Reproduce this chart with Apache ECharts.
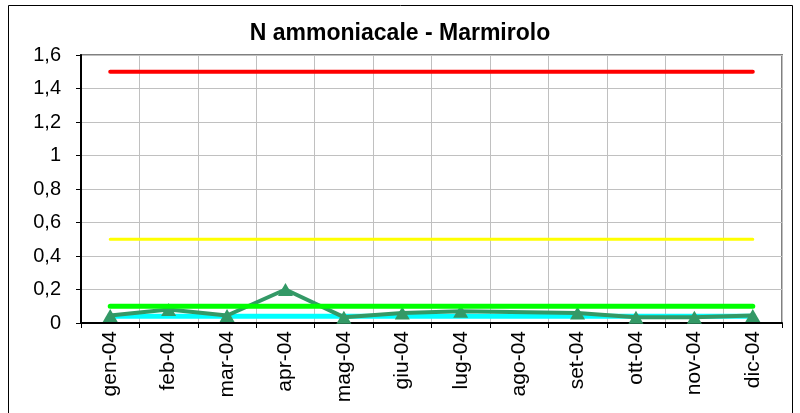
<!DOCTYPE html>
<html>
<head>
<meta charset="utf-8">
<title>N ammoniacale - Marmirolo</title>
<script src="https://cdn.jsdelivr.net/npm/echarts@6/dist/echarts.min.js"></script>
<style>
html,body{margin:0;padding:0;background:#fff;}
#main{width:800px;height:413px;}
</style>
</head>
<body>
<div id="main"></div>
<script>
// categorie (mesi)
var mesi = ['gen-04','feb-04','mar-04','apr-04','mag-04','giu-04','lug-04','ago-04','set-04','ott-04','nov-04','dic-04'];
// valori misurati (ago mancante)
var valori = [0.045,0.08,0.045,0.2,0.035,0.06,0.07,null,0.06,0.035,0.035,0.045];
// soglie
var sogliaRossa = 1.5;
var sogliaGialla = 0.5;
var sogliaVerde = 0.1;
var sogliaAzzurra = 0.04;
// tick asse y
var yMin = 0, yMax = 1.6, yStep = 0.2;

function costante(v){
	return mesi.map(function(){ return v; });
}

function lineaSoglia(nome, v, colore, spessore, z){
	return {
		name: nome,
		type: 'line',
		data: costante(v),
		symbol: 'none',
		lineStyle: {color: colore, width: spessore, cap: 'round'},
		itemStyle: {color: colore},
		z: z || 2,
		silent: true
	};
}

var font = 'Liberation Sans, Arial, sans-serif';
var myChart = echarts.init(document.getElementById('main'));
var option = {
	backgroundColor: '#ffffff',
	animation: false,
	title: {
		text: 'N ammoniacale - Marmirolo',
		left: 'center',
		top: 17,
		textStyle: {fontFamily: font, fontSize: 23, fontWeight: 'bold', color: '#000'}
	},
	// cornice esterna
	graphic: [{
		type: 'rect',
		shape: {x: 8.5, y: 5.5, width: 784, height: 430},
		style: {fill: 'none', stroke: '#000', lineWidth: 1},
		silent: true
	}],
	grid: {
		left: 81, right: 18, top: 55, bottom: 90,
		show: true,
		borderColor: '#808080',
		borderWidth: 2
	},
	xAxis: {
		type: 'category',
		data: mesi,
		boundaryGap: true,
		axisLine: {lineStyle: {color: '#000', width: 2}},
		axisTick: {show: true, length: 5, lineStyle: {color: '#000'}},
		splitLine: {show: true, lineStyle: {color: '#c0c0c0', width: 1}},
		axisLabel: {
			rotate: 90,
			margin: 8,
			interval: 0,
			fontFamily: font,
			fontSize: 21,
			color: '#000'
		}
	},
	yAxis: {
		type: 'value',
		min: yMin,
		max: yMax,
		interval: yStep,
		axisLine: {show: true, lineStyle: {color: '#000', width: 2}},
		axisTick: {show: true, length: 5, lineStyle: {color: '#000'}},
		splitLine: {show: true, lineStyle: {color: '#c0c0c0', width: 1}},
		axisLabel: {
			margin: 20,
			fontFamily: font,
			fontSize: 20,
			color: '#000',
			formatter: function(v){
				return (Math.round(v*10)/10).toString().replace('.', ',');
			}
		}
	},
	series: [
		lineaSoglia('rosso', sogliaRossa, '#ff0000', 4),
		lineaSoglia('giallo', sogliaGialla, '#ffff00', 3),
		lineaSoglia('azzurro', sogliaAzzurra, '#00ffff', 5),
		{
			name: 'N ammoniacale',
			type: 'line',
			data: valori,
			connectNulls: true,
			symbol: 'triangle',
			symbolSize: [15, 13],
			lineStyle: {color: '#339966', width: 4},
			itemStyle: {color: '#339966'},
			z: 3
		},
		lineaSoglia('verde', sogliaVerde, '#00ff00', 5, 4)
	]
};
myChart.setOption(option);
</script>
</body>
</html>
